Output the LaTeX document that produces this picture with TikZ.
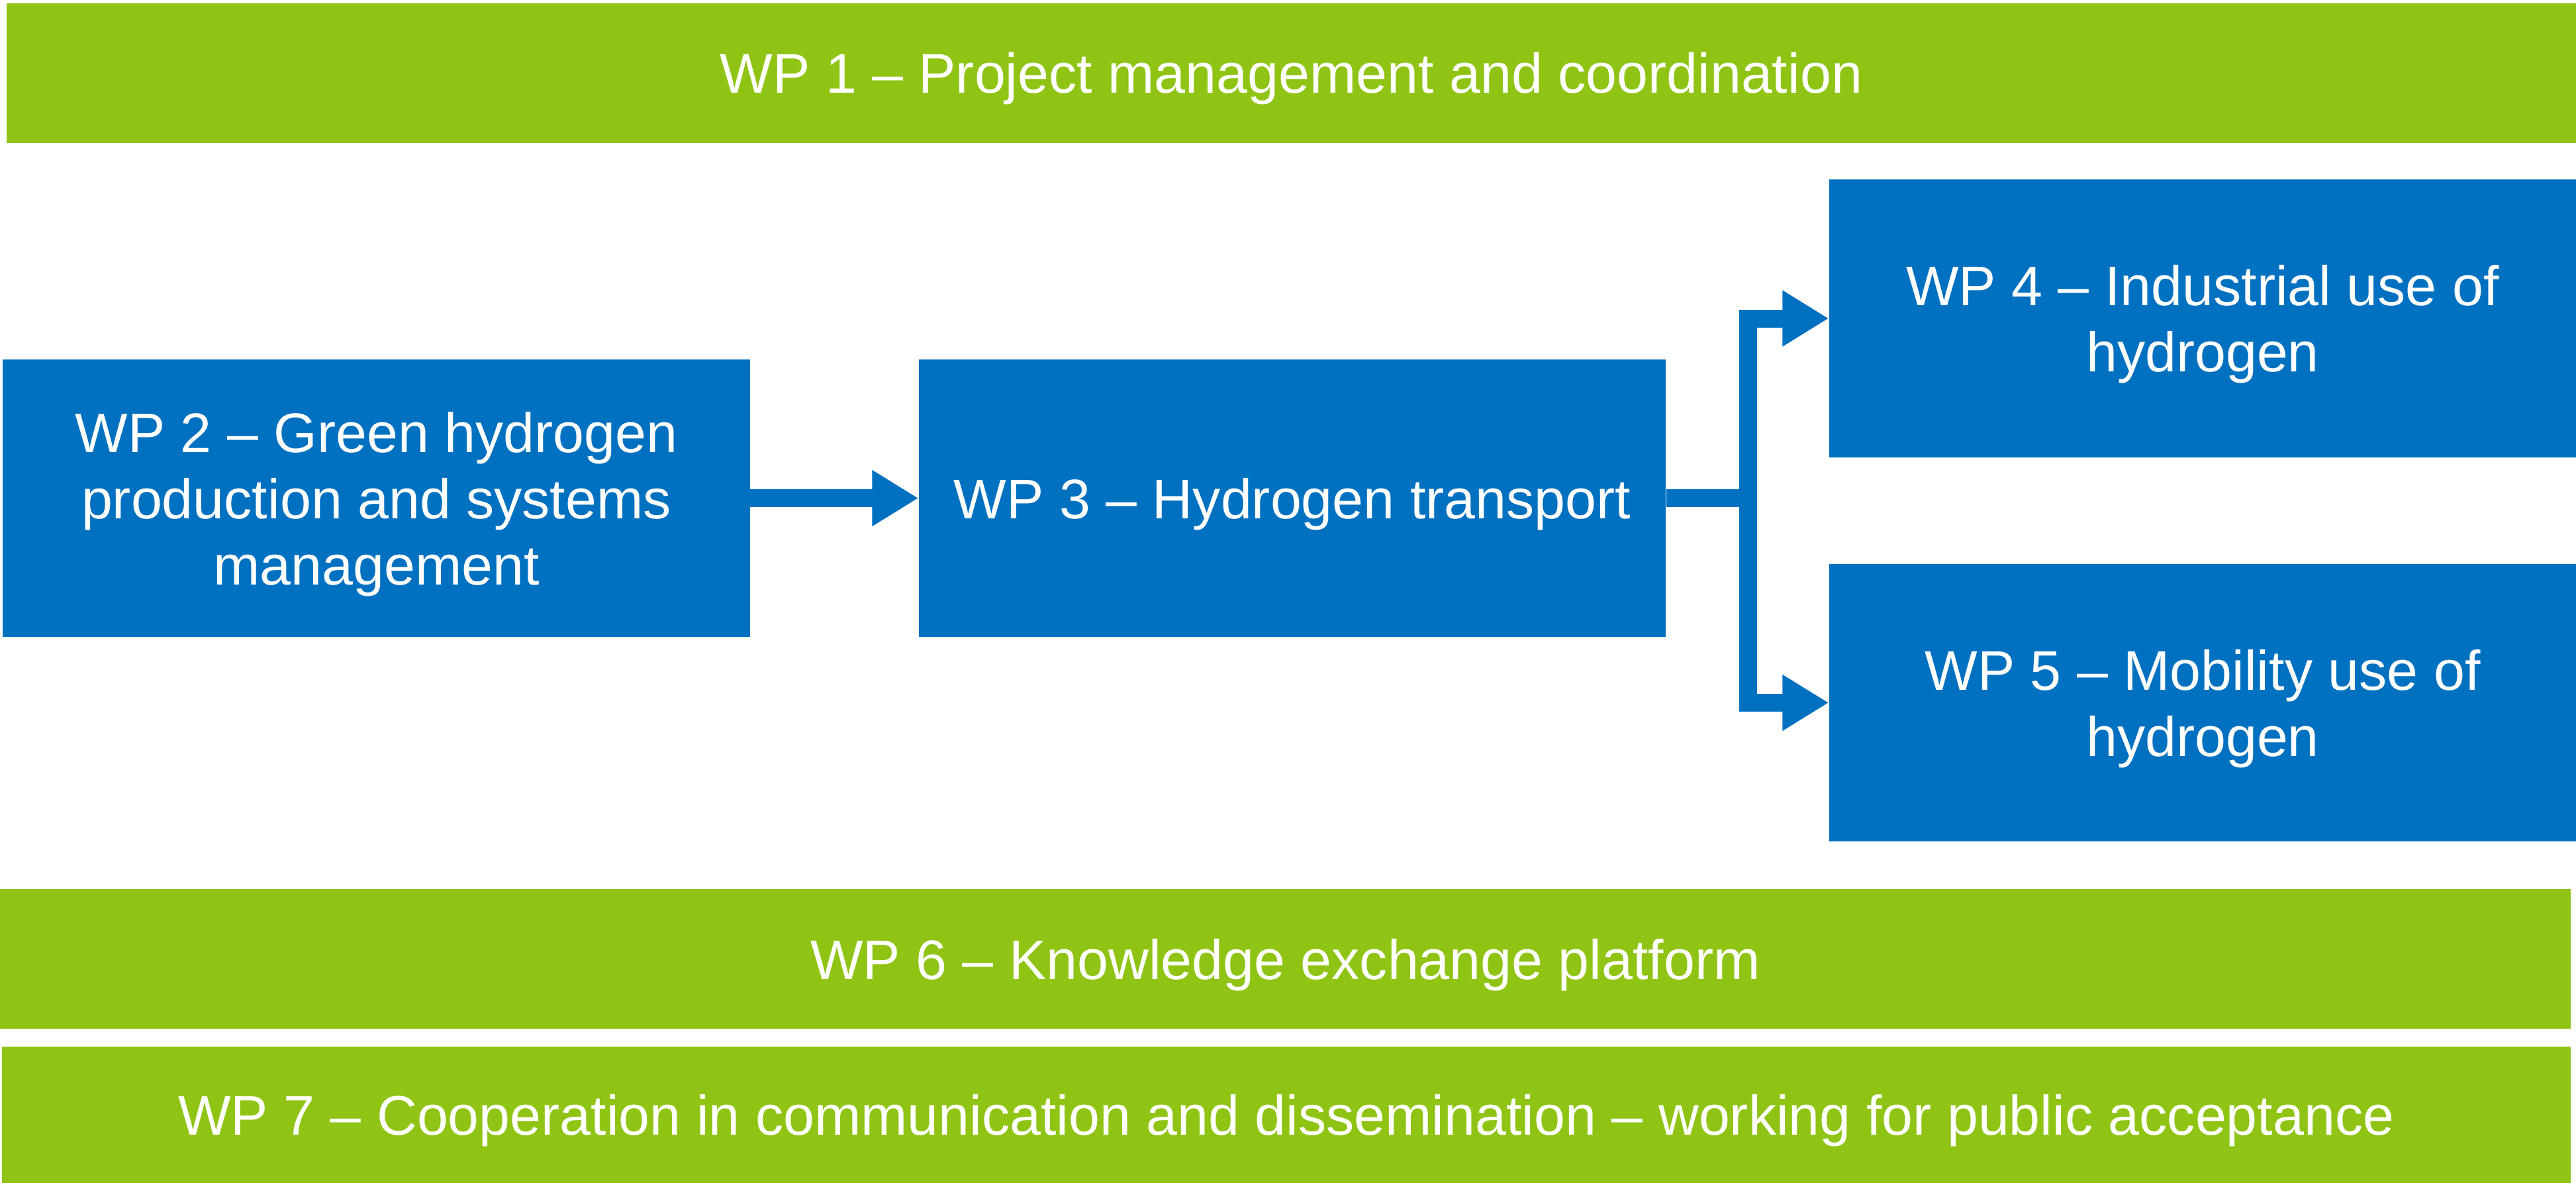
\documentclass[tikz,border=0pt]{standalone}
\usepackage{fontspec}
\setmainfont{Liberation Sans}
\usetikzlibrary{arrows.meta}
\definecolor{wpgreen}{RGB}{143,196,21}
\definecolor{wpblue}{RGB}{0,112,192}
\tikzset{
    WPG/.style ={rectangle, fill=wpgreen, text=white, inner sep=0pt, text height=0.61cm, text depth=0pt},
    WPB/.style ={rectangle, fill=wpblue, text=white, inner sep=0pt, align=center, text depth=0pt, minimum width=11.28cm, minimum height=4.19cm},
    LN/.style ={draw=wpblue, line width=0.27cm},
    AR/.style ={LN, -{Triangle[length=0.70cm,width=0.8cm]}}}

\begin{document}
\begin{tikzpicture}[every node/.style={font=\fontsize{24}{28.5}\selectfont}]
        \useasboundingbox (0,0) rectangle (38.91,-17.87);
        \node[WPG, minimum width=38.81cm, minimum height=2.11cm] (1) at (19.505,-1.105){WP 1 -- Project management and coordination};
        \node[WPB, text height=2.62cm] (2) at (5.685,-7.525){WP 2 -- Green hydrogen\\production and systems\\management};
        \node[WPB, text height=0.61cm] (3) at (19.52,-7.525){WP 3 -- Hydrogen transport};
        \node[WPB, text height=1.615cm] (4) at (33.27,-4.81){WP 4 -- Industrial use of\\hydrogen};
        \node[WPB, text height=1.615cm] (5) at (33.27,-10.615){WP 5 -- Mobility use of\\hydrogen};
        \node[WPG, minimum width=38.83cm, minimum height=2.11cm] (6) at (19.415,-14.485){WP 6 -- Knowledge exchange platform};
        \node[WPG, minimum width=38.80cm, minimum height=2.06cm] (7) at (19.43,-16.84){WP 7 -- Cooperation in communication and dissemination -- working for public acceptance};
        \coordinate (J) at (26.40,-7.525);
        \draw[AR] (2) -- (3);
        \draw[LN] (3) -- (J);
        \draw[AR] (J) |- (4);
        \draw[AR] (J) |- (5);
    \end{tikzpicture}
\end{document}
